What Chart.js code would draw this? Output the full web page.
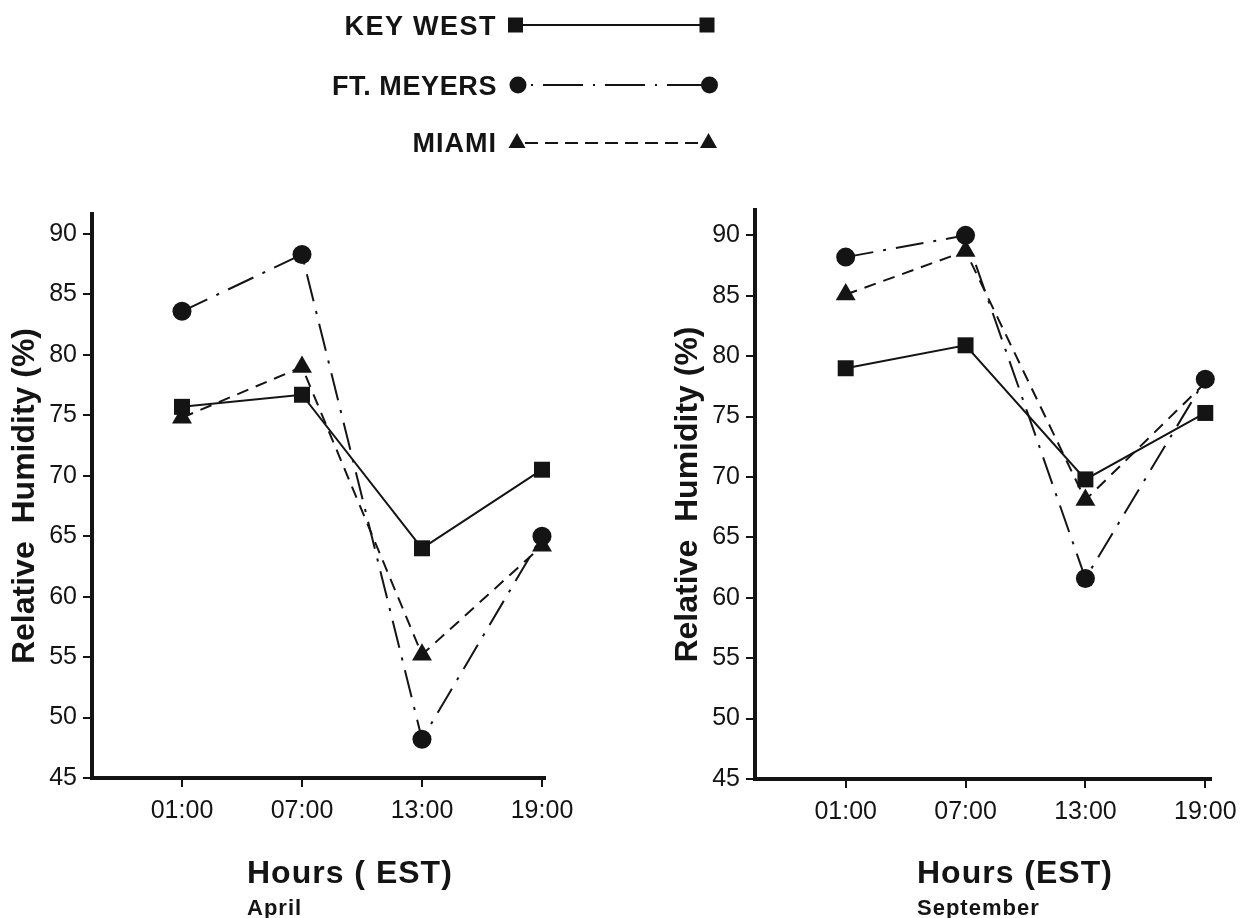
<!DOCTYPE html>
<html>
<head>
<meta charset="utf-8">
<script src="https://cdn.jsdelivr.net/npm/chart.js@4.4.1/dist/chart.umd.min.js"></script>
<style>
  html, body { margin: 0; padding: 0; background: #fff; }
  #wrap { position: relative; width: 1246px; height: 918px; overflow: hidden; background: #fff; }
  canvas { position: absolute; top: 0; }
  svg { position: absolute; left: 0; top: 0; pointer-events: none; }
  svg text { font-family: "Liberation Sans", Arial, Helvetica, sans-serif; fill: #141414; font-weight: bold; }
</style>
</head>
<body>
<div id="wrap">
  <canvas id="april" width="623" height="918" style="left:0px"></canvas>
  <canvas id="september" width="583" height="918" style="left:663px"></canvas>
  <svg width="1246" height="918" viewBox="0 0 1246 918">
    <!-- legend -->
    <text x="497" y="35" font-size="27" text-anchor="end" letter-spacing="1.5">KEY WEST</text>
    <line x1="523" y1="25" x2="700" y2="25" stroke="#141414" stroke-width="2"/>
    <rect x="508" y="17.5" width="15" height="15" fill="#141414"/>
    <rect x="699.5" y="17.5" width="15" height="15" fill="#141414"/>

    <text x="497" y="95" font-size="27" text-anchor="end" letter-spacing="0.6">FT. MEYERS</text>
    <line x1="531" y1="85" x2="703" y2="85" stroke="#141414" stroke-width="2" stroke-dasharray="2 10 40 10"/>
    <circle cx="518" cy="85" r="8.5" fill="#141414"/>
    <circle cx="709.5" cy="85" r="8.5" fill="#141414"/>

    <text x="497" y="152" font-size="27" text-anchor="end" letter-spacing="1">MIAMI</text>
    <line x1="525" y1="143" x2="701" y2="143" stroke="#141414" stroke-width="2" stroke-dasharray="13 7"/>
    <polygon points="517,133 525.5,148 508.5,148" fill="#141414"/>
    <polygon points="708.5,133 717,148 700,148" fill="#141414"/>

    <!-- panel captions -->
    <text x="247" y="883" font-size="32" letter-spacing="1">Hours ( EST)</text>
    <text x="247" y="915" font-size="22" letter-spacing="1">April</text>
    <text x="917" y="883" font-size="32" letter-spacing="1">Hours (EST)</text>
    <text x="917" y="915" font-size="22" letter-spacing="1">September</text>
  </svg>
</div>
<script>
// ---- data ----
const hours = [1, 7, 13, 19];
const hourLabels = ['01:00', '07:00', '13:00', '19:00'];
const yTicks = [45, 50, 55, 60, 65, 70, 75, 80, 85, 90];
const seriesNames = ['KEY WEST', 'FT. MEYERS', 'MIAMI'];

const aprilKeyWest  = [75.7, 76.7, 64.0, 70.5];
const aprilFtMeyers = [83.6, 88.3, 48.2, 65.0];
const aprilMiami    = [74.8, 79.0, 55.2, 64.2];

const septKeyWest   = [79.0, 80.9, 69.8, 75.3];
const septFtMeyers  = [88.2, 90.0, 61.6, 78.1];
const septMiami     = [85.1, 88.7, 68.1, 77.8];

// ---- styles ----
const INK = '#141414';
const FAMILY = '"Liberation Sans", Arial, Helvetica, sans-serif';
const seriesStyles = [
  { pointStyle: 'rect',     pointRadius: 11.3, borderDash: [] },
  { pointStyle: 'circle',   pointRadius: 9.5,  borderDash: [28, 10, 3, 10] },
  { pointStyle: 'triangle', pointRadius: 11.5, borderDash: [12, 8] }
];

function makeDataset(i, values) {
  const st = seriesStyles[i];
  return {
    label: seriesNames[i],
    data: hours.map((h, k) => ({ x: h, y: values[k] })),
    borderColor: INK,
    backgroundColor: INK,
    borderWidth: 2,
    borderDash: st.borderDash,
    pointStyle: st.pointStyle,
    pointRadius: st.pointRadius,
    pointBackgroundColor: INK,
    pointBorderColor: INK,
    pointBorderWidth: 0,
    tension: 0,
    clip: false
  };
}

const gridOpts = { display: true, drawOnChartArea: false, drawTicks: true, tickLength: 9, color: INK, lineWidth: 2 };
const borderOpts = { display: true, color: INK, width: 4 };

function makeChart(id, sets, o) {
  return new Chart(document.getElementById(id), {
    type: 'line',
    data: { datasets: sets },
    options: {
      responsive: false,
      animation: false,
      events: [],
      layout: { padding: { left: 0, top: o.top, right: o.right, bottom: 0 } },
      plugins: { legend: { display: false }, tooltip: { enabled: false } },
      scales: {
        x: {
          type: 'linear', min: o.xmin, max: o.xmax,
          afterBuildTicks: s => { s.ticks = hours.map(v => ({ value: v })); },
          afterFit: s => { s.height = o.bottomH; },
          ticks: {
            autoSkip: false, maxRotation: 0, padding: 9, color: INK,
            font: { family: FAMILY, size: 25 },
            callback: v => hourLabels[hours.indexOf(v)]
          },
          grid: gridOpts,
          border: borderOpts
        },
        y: {
          type: 'linear', min: 45, max: o.ymax,
          afterBuildTicks: s => { s.ticks = yTicks.map(v => ({ value: v })); },
          afterFit: s => { s.width = 92; },
          ticks: { padding: 6, color: INK, font: { family: FAMILY, size: 25 } },
          grid: gridOpts,
          border: borderOpts,
          title: {
            display: true, text: 'Relative  Humidity (%)', color: INK,
            font: { family: FAMILY, size: 32, weight: 'bold' },
            padding: { top: 6, bottom: 0 }
          }
        }
      }
    }
  });
}

makeChart('april', [
  makeDataset(0, aprilKeyWest),
  makeDataset(1, aprilFtMeyers),
  makeDataset(2, aprilMiami)
], { top: 214, right: 78, bottomH: 140, xmin: -3.5, xmax: 19.15, ymax: 91.65 });

const septMiamiSet = makeDataset(2, septMiami);
septMiamiSet.pointRadius = [11.5, 11.5, 11.5, 0];
makeChart('september', [
  makeDataset(0, septKeyWest),
  makeDataset(1, septFtMeyers),
  septMiamiSet
], { top: 210, right: 34, bottomH: 139, xmin: -3.54, xmax: 19.3, ymax: 92.1 });
</script>
</body>
</html>
